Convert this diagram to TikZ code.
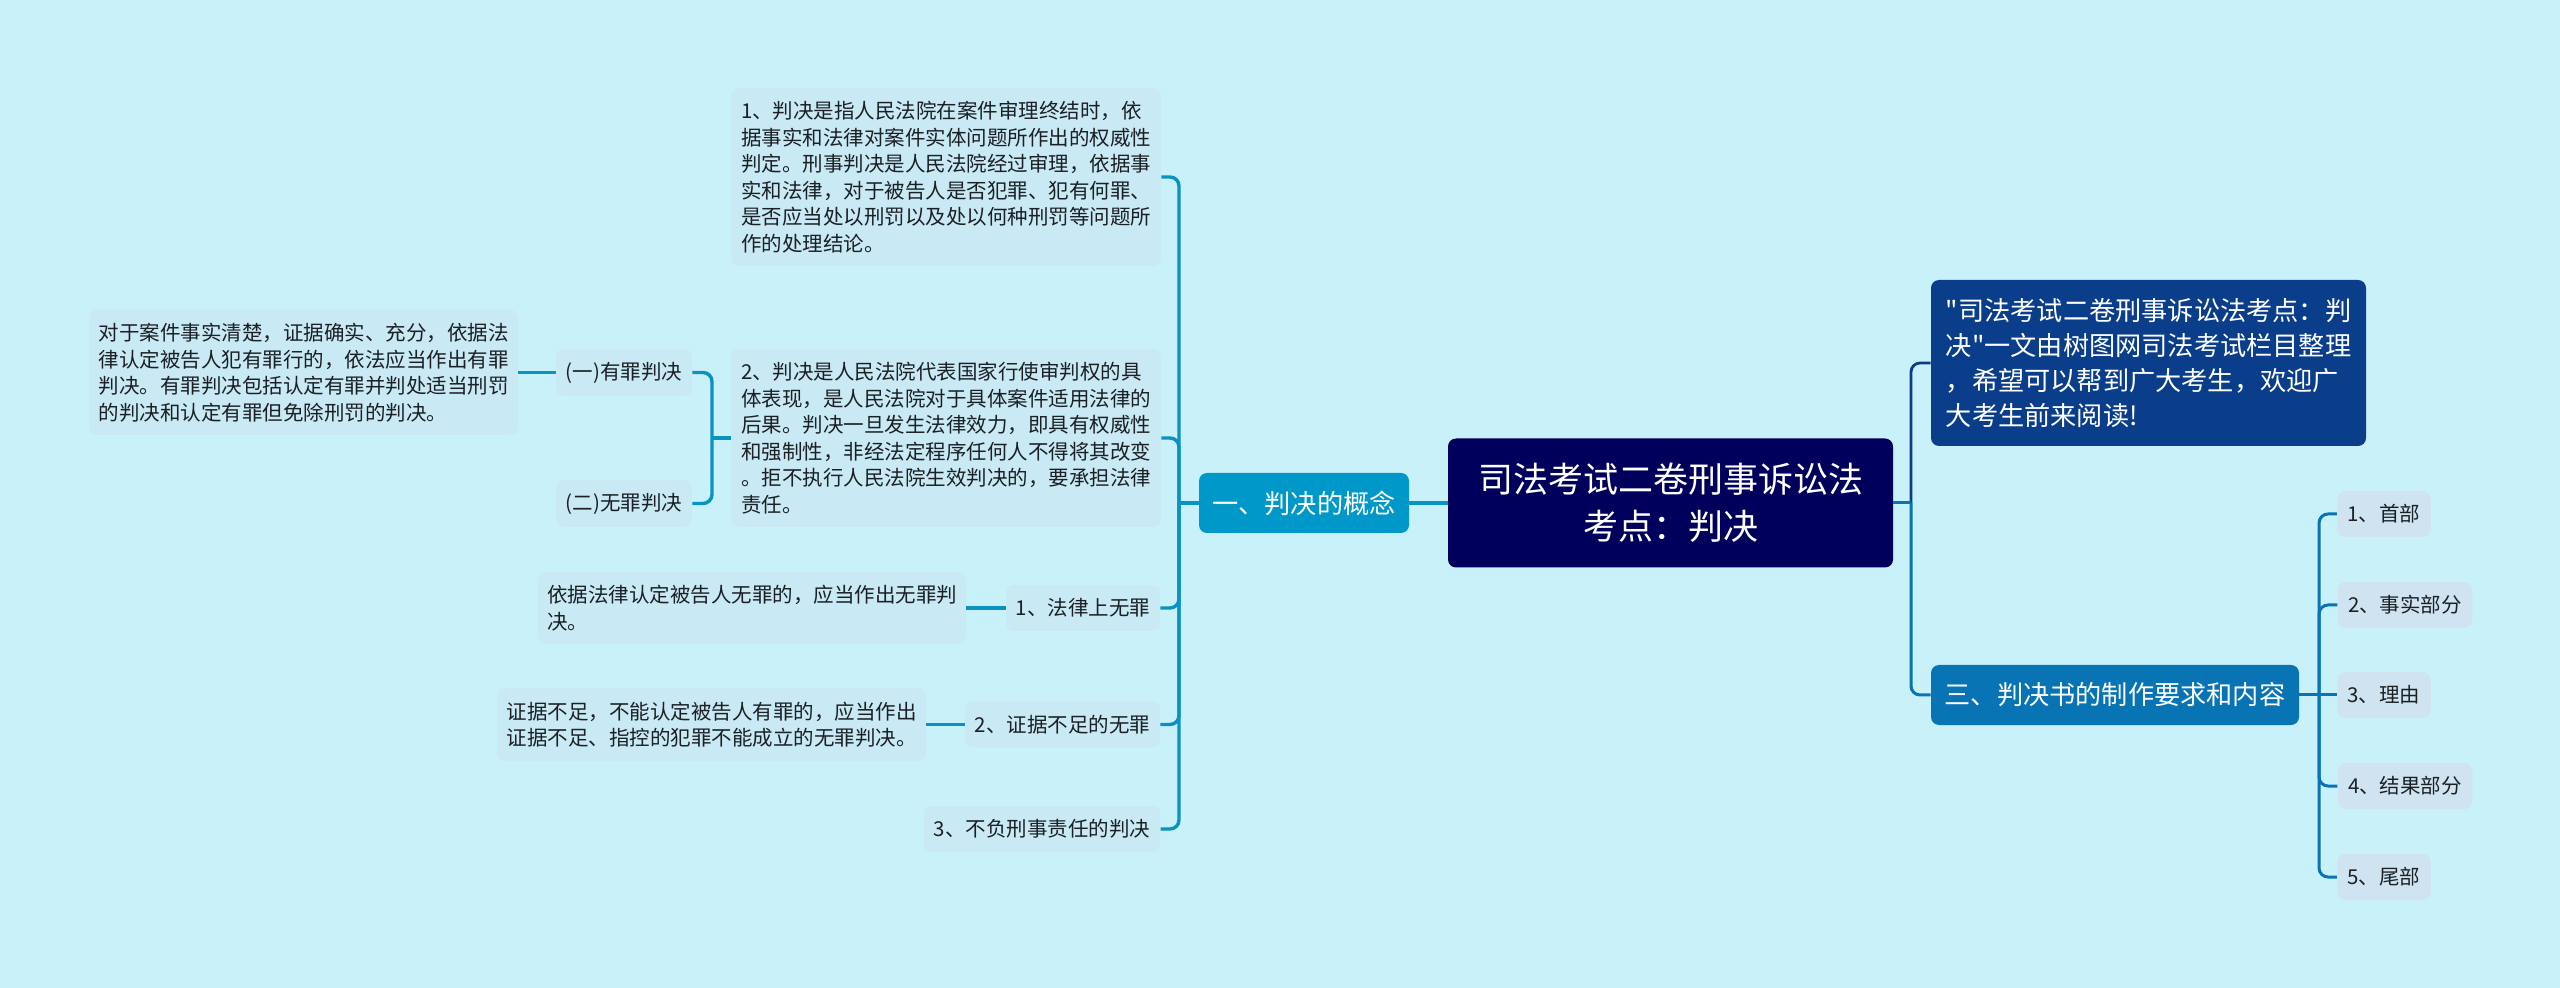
\documentclass[tikz,border=0pt]{standalone}
\usepackage{fontspec}
\newfontfamily\cjkfont{Noto Sans CJK SC}
\definecolor{bgcol}{HTML}{C9F1F9}
\definecolor{softcol}{HTML}{C9E9F4}
\definecolor{leafcol}{HTML}{CFE4F0}
\definecolor{rootcol}{HTML}{00005C}
\definecolor{conceptcol}{HTML}{0098C8}
\definecolor{introcol}{HTML}{0A3E8A}
\definecolor{formatcol}{HTML}{0874B4}
\definecolor{branchcol}{HTML}{0A93C2}
\definecolor{inkcol}{HTML}{1A2024}
\begin{document}
\begin{tikzpicture}[x=0.5pt,y=-0.5pt,
tbox/.style={rounded corners=4pt,inner sep=0pt,align=left,text=inkcol,fill=softcol,font=\cjkfont\fontsize{10.25}{13.25}\selectfont},
leaf/.style={tbox,fill=leafcol,minimum height=23pt},
mainbox/.style={rounded corners=4pt,inner sep=0pt,align=left,text=white,minimum height=30pt,font=\cjkfont\fontsize{13.1}{17.5}\selectfont},
leftline/.style={draw=branchcol,line width=1.7pt,rounded corners=4.5pt},
upline/.style={draw=introcol,line width=1.4pt,rounded corners=4.5pt},
downline/.style={draw=formatcol,line width=1.5pt,rounded corners=4.5pt}]
\fill[bgcol] (0,0) rectangle (2560,988);
\useasboundingbox (0,0) rectangle (2560,988);
\node[mainbox,fill=rootcol,align=center,minimum width=222.5pt,minimum height=64.5pt,font=\cjkfont\fontsize{17.5}{23.5}\selectfont] (root) at (1670.5,503) {司法考试二卷刑事诉讼法\\考点：判决};
\node[mainbox,fill=conceptcol,minimum width=105pt] (concept) at (1304,503) {一、判决的概念};
\node[mainbox,fill=introcol,minimum width=217.5pt,minimum height=83pt] (intro) at (2148.5,363) {"司法考试二卷刑事诉讼法考点：判\\决"一文由树图网司法考试栏目整理\\，希望可以帮到广大考生，欢迎广\\大考生前来阅读!};
\node[mainbox,fill=formatcol,minimum width=184pt] (format) at (2115,695) {三、判决书的制作要求和内容};
\node[tbox,minimum width=215pt,minimum height=89pt] (def1) at (946,177) {1、判决是指人民法院在案件审理终结时，依\\据事实和法律对案件实体问题所作出的权威性\\判定。刑事判决是人民法院经过审理，依据事\\实和法律，对于被告人是否犯罪、犯有何罪、\\是否应当处以刑罚以及处以何种刑罚等问题所\\作的处理结论。};
\node[tbox,minimum width=215pt,minimum height=89pt] (def2) at (946,438) {2、判决是人民法院代表国家行使审判权的具\\体表现，是人民法院对于具体案件适用法律的\\后果。判决一旦发生法律效力，即具有权威性\\和强制性，非经法定程序任何人不得将其改变\\。拒不执行人民法院生效判决的，要承担法律\\责任。};
\node[tbox,minimum width=68pt,minimum height=23.5pt] (guilty) at (624,372.5) {(一)有罪判决};
\node[tbox,minimum width=68pt,minimum height=23.5pt] (innocent) at (624,503.5) {(二)无罪判决};
\node[tbox,minimum width=214.5pt,minimum height=62.5pt] (guiltytxt) at (303.5,372.5) {对于案件事实清楚，证据确实、充分，依据法\\律认定被告人犯有罪行的，依法应当作出有罪\\判决。有罪判决包括认定有罪并判处适当刑罚\\的判决和认定有罪但免除刑罚的判决。};
\node[tbox,minimum width=77pt,minimum height=23pt] (law) at (1083,608) {1、法律上无罪};
\node[tbox,minimum width=214pt,minimum height=36pt] (lawtxt) at (752,608) {依据法律认定被告人无罪的，应当作出无罪判\\决。};
\node[tbox,minimum width=97.5pt,minimum height=23pt] (proof) at (1062.5,724.5) {2、证据不足的无罪};
\node[tbox,minimum width=214.5pt,minimum height=36pt] (prooftxt) at (711.5,724.5) {证据不足，不能认定被告人有罪的，应当作出\\证据不足、指控的犯罪不能成立的无罪判决。};
\node[tbox,minimum width=118.25pt,minimum height=23pt] (noresp) at (1042,829) {3、不负刑事责任的判决};
\node[leaf,minimum width=46.75pt] (head) at (2384,514) {1、首部};
\node[leaf,minimum width=67.25pt] (facts) at (2405,605) {2、事实部分};
\node[leaf,minimum width=46.75pt] (reason) at (2384,695) {3、理由};
\node[leaf,minimum width=67.25pt] (result) at (2405,786) {4、结果部分};
\node[leaf,minimum width=46.75pt] (tail) at (2384,877) {5、尾部};
\coordinate (ltrunk) at (1179,503);
\coordinate (gtrunk) at (712,438);
\coordinate (rtrunk) at (1911,503);
\coordinate (strunk) at (2319,695);
\draw[leftline] (root.west) -- (concept.east);
\draw[leftline] (concept.west) -- (ltrunk);
\draw[leftline] (def1.east) -| (ltrunk) |- (noresp.east);
\foreach \n in {def2,law,proof}
  \draw[leftline] (\n.east) -| (ltrunk);
\draw[leftline] (def2.west) -- (gtrunk);
\draw[leftline] (guilty.east) -| (gtrunk) |- (innocent.east);
\draw[leftline] (guiltytxt.east) -- (guilty.west);
\draw[leftline] (lawtxt.east) -- (law.west);
\draw[leftline] (prooftxt.east) -- (proof.west);
\draw[upline] (rtrunk) |- (intro.west);
\draw[downline] (rtrunk) |- (format.west);
\draw[downline] (root.east) -- (rtrunk);
\draw[downline] (format.east) -- (reason.west);
\draw[downline] (head.west) -| (strunk) |- (tail.west);
\foreach \n in {facts,result}
  \draw[downline] (\n.west) -| (strunk);
\end{tikzpicture}
\end{document}
